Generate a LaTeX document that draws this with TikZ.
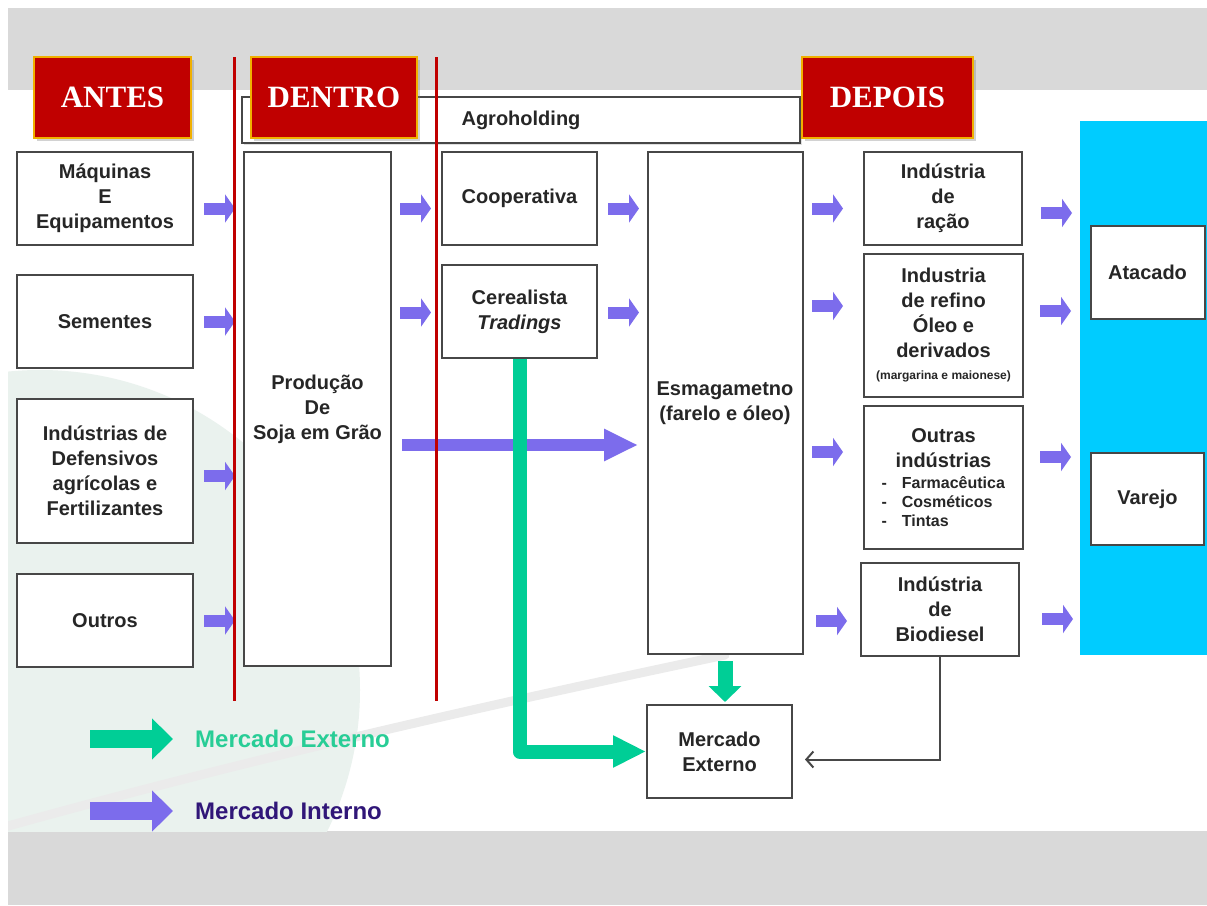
\documentclass[tikz,border=0pt]{standalone}
\usepackage{fontspec}
\setmainfont{Liberation Serif}
\setsansfont{Liberation Sans}
\usepackage{xcolor}
\usepackage{tikz}
\usetikzlibrary{arrows.meta,shadows}

\definecolor{vermelho}{RGB}{192,0,0}
\definecolor{ouro}{RGB}{240,176,0}
\definecolor{roxo}{RGB}{124,108,236}
\definecolor{verde}{RGB}{0,206,150}
\definecolor{verdeTxt}{RGB}{40,205,150}
\definecolor{roxoTxt}{RGB}{48,22,120}
\definecolor{azul}{RGB}{0,204,255}
\definecolor{cinza}{RGB}{217,217,217}
\definecolor{marca}{RGB}{234,242,238}

\tikzset{
  caixa/.style={draw=black!72, line width=2pt, fill=white, align=center,
    inner sep=2pt, text=black!85,
    font=\sffamily\bfseries\fontsize{20}{25}\selectfont},
  etapa/.style={draw=ouro, line width=1.5pt, fill=vermelho, text=white,
    minimum height=81pt,
    drop shadow={shadow xshift=3pt, shadow yshift=-3pt, opacity=0.35},
    font=\rmfamily\bfseries\fontsize{31}{36}\selectfont},
  interno/.style={roxo, line width=12pt, -{Triangle[length=10pt,width=28pt]}},
  externo/.style={verde, line width=14pt, line join=round,
    -{Triangle[length=33pt,width=30pt]}},
  legenda/.style={anchor=west, inner sep=0pt,
    font=\sffamily\bfseries\fontsize{24}{28}\selectfont},
}

\begin{document}
\begin{tikzpicture}[x=1pt, y=-1pt]
  \def\hb{93pt}
  \def\lb{176pt}
  \def\itemind#1{{\fontsize{16}{19}\selectfont\makebox[124pt][l]{-\hspace{15pt}#1}}}
  \useasboundingbox (0,0) rectangle (1207,905);
  \fill[white] (0,0) rectangle (1207,905);
  \fill[cinza] (8,8) rectangle (1207,90);
  \fill[cinza] (8,831) rectangle (1207,905);
  \begin{scope}
    \clip (8,90) rectangle (1207,831);
    \fill[marca] (40,690) circle (320);
    \draw[black!8, line width=9pt, line cap=round]
      (8,826) .. controls (300,745) and (560,690) .. (725,655);
  \end{scope}
  \fill[azul] (1080,121) rectangle (1207,655);

  \node[caixa, minimum width=558pt, minimum height=46pt,
    drop shadow={shadow xshift=2pt, shadow yshift=-2pt, opacity=0.25}]
    (agro) at (521,120) {Agroholding};

  \node[caixa, minimum width=\lb, minimum height=\hb] (maq) at (105,198.5)
    {Máquinas\\E\\Equipamentos};
  \node[caixa, minimum width=\lb, minimum height=\hb] (sem) at (105,321.5)
    {Sementes};
  \node[caixa, minimum width=\lb, minimum height=144pt] (ind) at (105,471)
    {Indústrias de\\Defensivos\\agrícolas e\\Fertilizantes};
  \node[caixa, minimum width=\lb, minimum height=\hb] (out) at (105,620.5)
    {Outros};
  \node[caixa, minimum width=147pt, minimum height=514pt] (prod) at (317.5,409)
    {Produção\\De\\Soja em Grão};
  \node[caixa, minimum width=155pt, minimum height=\hb] (coop) at (519.5,198.5)
    {Cooperativa};
  \node[caixa, minimum width=155pt, minimum height=\hb] (cer) at (519.5,311.5)
    {Cerealista\\\textit{Tradings}};
  \node[caixa, minimum width=155pt, minimum height=502pt] (esm) at (725,403)
    {Esmagametno\\(farelo e óleo)};
  \node[caixa, minimum width=158pt, minimum height=\hb] (racao) at (943,198.5)
    {Indústria\\de\\ração};
  \node[caixa, minimum width=159pt, minimum height=143pt] (refino) at (943.5,325.5)
    {Industria\\de refino\\Óleo e\\derivados\\[-3pt]{\fontsize{12}{14}\selectfont(margarina e maionese)}};
  \node[caixa, minimum width=159pt, minimum height=143pt] (outras) at (943.5,477.5)
    {Outras\\indústrias\\[-4pt]\itemind{Farmacêutica}\\[-6pt]\itemind{Cosméticos}\\[-6pt]\itemind{Tintas}};
  \node[caixa, minimum width=158pt, minimum height=\hb] (bio) at (940,609.5)
    {Indústria\\de\\Biodiesel};
  \node[caixa, minimum width=145pt, minimum height=\hb] (merc) at (719.5,751.5)
    {Mercado\\Externo};
  \node[caixa, minimum width=114pt, minimum height=\hb] (atac) at (1147.5,272.5)
    {Atacado};
  \node[caixa, minimum width=113pt, minimum height=92pt] (var) at (1147.5,499)
    {Varejo};

  \draw[interno] (maq.east) ++(10,10) --++ (31,0);
  \draw[interno] (sem.east) ++(10,0) --++ (31,0);
  \draw[interno] (ind.east) ++(10,5) --++ (31,0);
  \draw[interno] (out.east) ++(10,0) --++ (31,0);
  \draw[interno] (coop.west) ++(-41,10) --++ (31,0);
  \draw[interno] (cer.west) ++(-41,1) --++ (31,0);
  \draw[interno] (coop.east) ++(10,10) --++ (31,0);
  \draw[interno] (cer.east) ++(10,1) --++ (31,0);
  \draw[interno, -{Triangle[length=34pt,width=30pt]}]
    (prod.east) ++(10,36) --++ (236,0);
  \draw[interno] (racao.west) ++(-51,10) --++ (31,0);
  \draw[interno] (refino.west) ++(-51,-19.5) --++ (31,0);
  \draw[interno] (outras.west) ++(-51,-25.5) --++ (31,0);
  \draw[interno] (bio.west) ++(-44,11.5) --++ (31,0);
  \draw[interno] (racao.east) ++(18,14.5) --++ (31,0);
  \draw[interno] (refino.east) ++(16,-14.5) --++ (31,0);
  \draw[interno] (outras.east) ++(16,-20.5) --++ (31,0);
  \draw[interno] (bio.east) ++(22,9.5) --++ (31,0);

  \draw[externo]
    (cer.south) -- (cer.south |- merc.west) -- (merc.west)
  ;
  \draw[externo, line width=15pt, -{Triangle[length=16pt,width=32pt]}]
    (esm.south) ++(0,6) --++ (0,41)
  ;
  \draw[black!72, line width=2pt, -{Straight Barb[length=7pt,width=16pt]}]
    (bio.south) |- ([xshift=12pt,yshift=-8pt]merc.east)
  ;

  \foreach \xr in {234,436}
    \draw[vermelho, line width=3pt] (\xr,57) -- (\xr,701);

  \node[etapa, minimum width=157pt] (antes) at (112.5,97.5) {ANTES};
  \node[etapa, minimum width=166pt] (dentro) at (334,97.5) {DENTRO};
  \node[etapa, minimum width=171pt] (depois) at (887.5,97.5) {DEPOIS};

  \draw[verde, line width=18pt, -{Triangle[length=21pt,width=40pt]}]
    (90,739) coordinate (legExt) --++ (83,0) coordinate (legExtFim)
  ;
  \node[legenda, text=verdeTxt] (txtExt) at (195,739) {Mercado Externo};
  \draw[roxo, line width=18pt, -{Triangle[length=21pt,width=40pt]}]
    (90,811) coordinate (legInt) --++ (83,0) coordinate (legIntFim)
  ;
  \node[legenda, text=roxoTxt] (txtInt) at (195,811) {Mercado Interno};
\end{tikzpicture}
\end{document}
